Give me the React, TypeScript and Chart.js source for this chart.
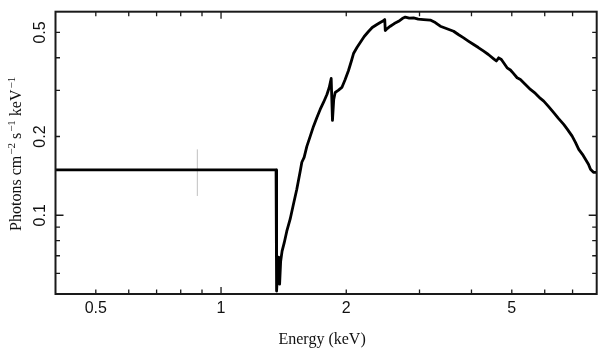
import React, { useEffect, useRef } from "react";
import { Chart, registerables } from "chart.js";

Chart.register(...registerables);

// ---- data ----
const flatEnergy = [0.4, 1.356];
const flatFlux = [0.149, 0.149];

const curveEnergy = [
  1.360, 1.368, 1.376, 1.383, 1.391, 1.402, 1.418, 1.439, 1.466, 1.493,
  1.521, 1.550, 1.564, 1.584, 1.608, 1.638, 1.668, 1.700, 1.731, 1.763,
  1.797, 1.820, 1.840, 1.853, 1.866, 1.881, 1.913, 1.952, 1.988, 2.025,
  2.056, 2.082, 2.122, 2.161, 2.209, 2.262, 2.309, 2.370, 2.414, 2.450,
  2.475, 2.482, 2.509, 2.552, 2.609, 2.672, 2.727, 2.773, 2.835, 2.903,
  2.980, 3.069, 3.184, 3.274, 3.366, 3.480, 3.623, 3.719, 3.830, 3.931,
  4.048, 4.155, 4.279, 4.392, 4.523, 4.591, 4.650, 4.720, 4.872, 4.962,
  5.045, 5.149, 5.244, 5.392, 5.543, 5.699, 5.859, 5.967, 6.124, 6.306,
  6.472, 6.665, 6.803, 6.983, 7.112, 7.243, 7.393, 7.517, 7.643, 7.729,
  7.858, 8.0,
];
const curveFlux = [
  0.0513, 0.0622, 0.0691, 0.0545, 0.0667, 0.0729, 0.0782, 0.0869, 0.0966, 0.1102,
  0.1257, 0.1472, 0.1594, 0.1665, 0.1834, 0.2002, 0.2186, 0.2366, 0.2538, 0.2699,
  0.2896, 0.3080, 0.3334, 0.2305, 0.2771, 0.2947, 0.3000, 0.3080, 0.3304, 0.3576,
  0.3871, 0.4152, 0.4377, 0.4574, 0.4822, 0.5039, 0.5219, 0.5359, 0.5454, 0.5526,
  0.5599, 0.5084, 0.5174, 0.5280, 0.5406, 0.5516, 0.5649, 0.5724, 0.5674, 0.5684,
  0.5623, 0.5599, 0.5575, 0.5454, 0.5280, 0.5174, 0.5052, 0.4908, 0.4767, 0.4634,
  0.4494, 0.4377, 0.4237, 0.4116, 0.3963, 0.3888, 0.3998, 0.3939, 0.3662, 0.3592,
  0.3484, 0.3355, 0.3304, 0.3162, 0.3027, 0.2922, 0.2796, 0.2730, 0.2607, 0.2466,
  0.2345, 0.2225, 0.2129, 0.2007, 0.1899, 0.1786, 0.1710, 0.1636, 0.1566, 0.1498,
  0.1459, 0.1459,
];

const errEnergy = [0.877, 0.877];
const errFlux = [0.1185, 0.1786];

const xMin = 0.4;
const xMax = 8;
const yMin = 0.05;
const yMax = 0.6;

const xLabelTicks = [0.5, 1, 2, 5];
const xMinorTicks = [0.6, 0.7, 0.8, 0.9, 3, 4, 6, 7];
const xDecadeTicks = [1];
const yLabelTicks = [0.1, 0.2, 0.5];
const yMinorTicks = [0.06, 0.07, 0.08, 0.09, 0.3, 0.4];
const yDecadeTicks = [0.1];

const xTitle = "Energy (keV)";

const framePlugin = {
  id: "framePlugin",
  afterDatasetsDraw(chart: any) {
    const ctx = chart.ctx;
    const { left, right, top, bottom } = chart.chartArea;
    const xs = chart.scales.x;
    const ys = chart.scales.y;
    ctx.save();
    // ticks
    ctx.strokeStyle = "#1a1a1a";
    ctx.lineWidth = 1.3;
    const allX = [...xLabelTicks, ...xMinorTicks];
    allX.forEach((v) => {
      const px = xs.getPixelForValue(v);
      const len = xDecadeTicks.includes(v) ? 7 : 4.5;
      ctx.beginPath();
      ctx.moveTo(px, bottom);
      ctx.lineTo(px, bottom - len);
      ctx.moveTo(px, top);
      ctx.lineTo(px, top + len);
      ctx.stroke();
    });
    const allY = [...yLabelTicks, ...yMinorTicks];
    allY.forEach((v) => {
      const py = ys.getPixelForValue(v);
      const len = yDecadeTicks.includes(v) ? 8 : 4.5;
      ctx.beginPath();
      ctx.moveTo(left, py);
      ctx.lineTo(left + len, py);
      ctx.moveTo(right, py);
      ctx.lineTo(right - len, py);
      ctx.stroke();
    });
    // frame
    ctx.lineWidth = 2;
    ctx.strokeStyle = "#1a1a1a";
    ctx.strokeRect(left, top, right - left, bottom - top);

    // x tick labels
    ctx.fillStyle = "#111";
    ctx.font = "16px 'Liberation Sans', Arial, sans-serif";
    ctx.textAlign = "center";
    ctx.textBaseline = "middle";
    xLabelTicks.forEach((v) => {
      ctx.fillText(String(v), xs.getPixelForValue(v), bottom + 15);
    });
    // y tick labels rotated
    yLabelTicks.forEach((v) => {
      const py = ys.getPixelForValue(v);
      ctx.save();
      ctx.translate(left - 15, py);
      ctx.rotate(-Math.PI / 2);
      ctx.fillText(String(v), 0, 0);
      ctx.restore();
    });
    // x title
    ctx.font = "16px 'Liberation Serif', 'Times New Roman', serif";
    ctx.fillText(xTitle, (left + right) / 2 - 4, bottom + 46);

    // y title with superscripts
    const parts: [string, boolean][] = [
      ["Photons cm", false],
      ["\u22122", true],
      [" s", false],
      ["\u22121", true],
      [" keV", false],
      ["\u22121", true],
    ];
    const base = "16px 'Liberation Serif', 'Times New Roman', serif";
    const sup = "11px 'Liberation Serif', 'Times New Roman', serif";
    let total = 0;
    parts.forEach(([t, s]) => {
      ctx.font = s ? sup : base;
      total += ctx.measureText(t).width + (s ? 1 : 0);
    });
    ctx.save();
    ctx.translate(17, (top + bottom) / 2 + 1);
    ctx.rotate(-Math.PI / 2);
    ctx.textAlign = "left";
    ctx.textBaseline = "middle";
    let xcur = -total / 2;
    parts.forEach(([t, s]) => {
      ctx.font = s ? sup : base;
      ctx.fillText(t, xcur + (s ? 1 : 0), s ? -5 : 0);
      xcur += ctx.measureText(t).width + (s ? 1 : 0);
    });
    ctx.restore();
    ctx.restore();
  },
};

export default function App() {
  const ref = useRef<HTMLCanvasElement | null>(null);
  useEffect(() => {
    if (!ref.current) return;
    const mainLine = [
      ...flatEnergy.map((x, i) => ({ x, y: flatFlux[i] })),
      ...curveEnergy.map((x, i) => ({ x, y: curveFlux[i] })),
    ];
    const errLine = errEnergy.map((x, i) => ({ x, y: errFlux[i] }));
    const chart = new Chart(ref.current, {
      type: "line",
      data: {
        datasets: [
          {
            data: mainLine,
            borderColor: "#000",
            borderWidth: 2.8,
            borderJoinStyle: "round",
            pointRadius: 0,
            tension: 0,
            fill: false,
          },
          {
            data: errLine,
            borderColor: "#c0c0c0",
            borderWidth: 1,
            pointRadius: 0,
            fill: false,
          },
        ],
      },
      options: {
        responsive: false,
        animation: false,
        devicePixelRatio: 1,
        layout: { padding: { left: 55.5, right: 12.3, top: 11.7, bottom: 63 } },
        plugins: {
          legend: { display: false },
          tooltip: { enabled: false },
          title: { display: false },
        },
        scales: {
          x: { type: "logarithmic", min: xMin, max: xMax, display: false },
          y: { type: "logarithmic", min: yMin, max: yMax, display: false },
        },
      },
      plugins: [framePlugin],
    });
    return () => chart.destroy();
  }, []);
  return (
    <div style={{ position: "fixed", left: 0, top: 0, width: 609, height: 357, background: "#fff" }}>
      <canvas ref={ref} width={609} height={357} style={{ width: 609, height: 357, display: "block" }} />
    </div>
  );
}
